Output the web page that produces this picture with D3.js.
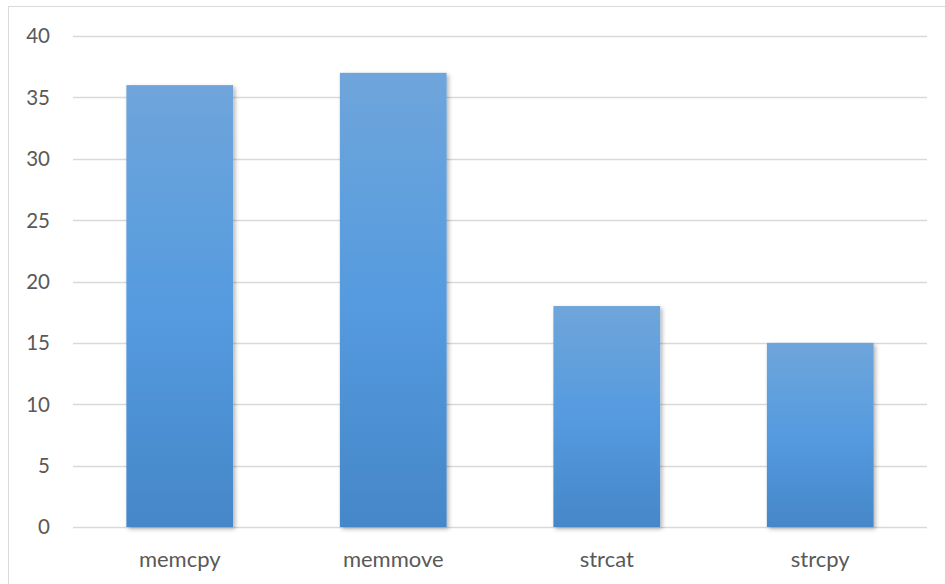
<!DOCTYPE html>
<html>
  <head>
    <meta charset="utf-8">
    <script src="https://cdn.jsdelivr.net/npm/d3@7"></script>
    <style>
      body { margin: 0; background: #fff; }
      text { font-family: Lato, 'Open Sans', sans-serif; fill: #595959; }
    </style>
  </head>
  <body>
    <svg></svg>
    <script>
      let categories = ["memcpy", "memmove", "strcat", "strcpy"];
      let values = [36, 37, 18, 15];
      let yTicks = [0, 5, 10, 15, 20, 25, 30, 35, 40];

      let w = 945, h = 584;
      let margin = {top: 36, right: 18, bottom: 57, left: 73};

      let svg = d3.select("svg")
                  .attr("width", w)
                  .attr("height", h);

      let defs = svg.append("defs");

      let grad = defs.append("linearGradient")
                     .attr("id", "barGrad")
                     .attr("x1", 0).attr("y1", 0)
                     .attr("x2", 0).attr("y2", 1);
      grad.append("stop").attr("offset", "0%").attr("stop-color", "#6fa5db");
      grad.append("stop").attr("offset", "50%").attr("stop-color", "#559bdf");
      grad.append("stop").attr("offset", "100%").attr("stop-color", "#4587c8");

      let shadow = defs.append("filter")
                       .attr("id", "shadow")
                       .attr("x", "-10%").attr("y", "-10%")
                       .attr("width", "130%").attr("height", "130%");
      shadow.append("feDropShadow")
            .attr("dx", 2).attr("dy", 2)
            .attr("stdDeviation", 2)
            .attr("flood-color", "#000")
            .attr("flood-opacity", 0.3);

      // chart area border
      svg.append("rect")
         .attr("x", 8.5).attr("y", 6.5)
         .attr("width", w + 10).attr("height", h + 10)
         .attr("fill", "none")
         .attr("stroke", "#d9d9d9");

      let x = d3.scaleBand()
                .domain(categories)
                .range([margin.left, w - margin.right])
                .paddingInner(0.5)
                .paddingOuter(0.25);

      let y = d3.scaleLinear()
                .domain([0, 40])
                .range([h - margin.bottom, margin.top]);

      //gridlines
      svg.append("g")
         .selectAll("line")
         .data(yTicks)
         .enter()
         .append("line")
         .attr("x1", margin.left)
         .attr("x2", w - margin.right)
         .attr("y1", d => Math.round(y(d)) + 0.5)
         .attr("y2", d => Math.round(y(d)) + 0.5)
         .attr("stroke", "#d9d9d9")
         .attr("stroke-width", 1.3);

      //y labels
      svg.append("g")
         .selectAll("text")
         .data(yTicks)
         .enter()
         .append("text")
         .attr("x", 50)
         .attr("y", d => y(d))
         .attr("dy", "0.36em")
         .attr("text-anchor", "end")
         .attr("font-size", 20.5)
         .text(d => d);

      //bars
      svg.append("g")
         .selectAll("rect")
         .data(values)
         .enter()
         .append("rect")
         .attr("x", (d, i) => x(categories[i]))
         .attr("y", d => y(d))
         .attr("width", x.bandwidth())
         .attr("height", d => y(0) - y(d))
         .attr("fill", "url(#barGrad)")
         .attr("filter", "url(#shadow)");

      //category labels
      svg.append("g")
         .selectAll("text")
         .data(categories)
         .enter()
         .append("text")
         .attr("x", d => x(d) + x.bandwidth() / 2)
         .attr("y", 567)
         .attr("text-anchor", "middle")
         .attr("font-size", 22)
         .text(d => d);
    </script>
  </body>
</html>
